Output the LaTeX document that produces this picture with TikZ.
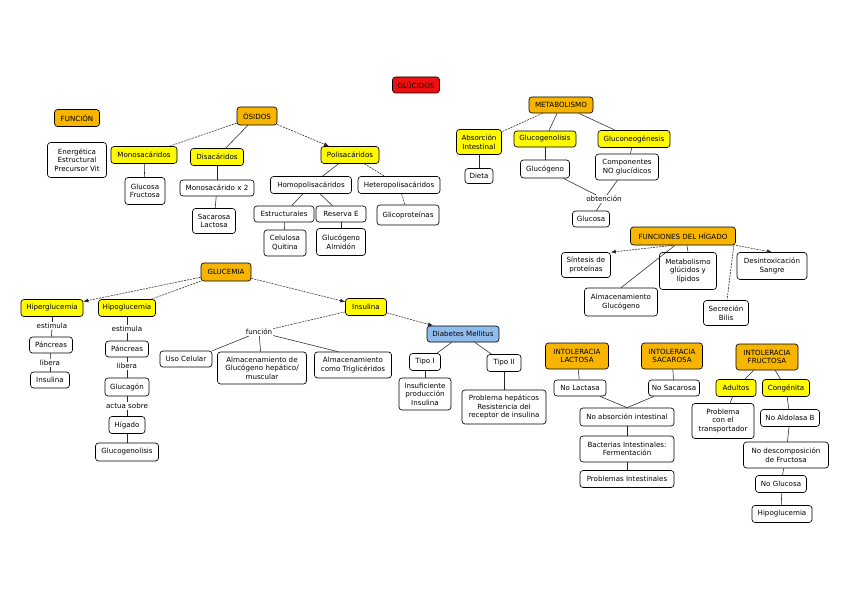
\documentclass[tikz,border=0pt]{standalone}
\usepackage{fontspec}
\newfontfamily\djfont{DejaVu Sans}
\usetikzlibrary{arrows.meta}
\definecolor{cOrange}{HTML}{F7B500}
\definecolor{cYellow}{HTML}{FFFA00}
\definecolor{cRed}{HTML}{EE1010}
\definecolor{cBlue}{HTML}{90BCEC}
\tikzset{
  basebox/.style={draw=black, line width=0.65pt, rounded corners=3pt, align=center,
    inner sep=1.5pt, font=\djfont\fontsize{7.1}{8.5}\selectfont},
  wbox/.style={basebox, fill=white},
  ybox/.style={basebox, fill=cYellow},
  obox/.style={basebox, fill=cOrange},
  rbox/.style={basebox, fill=cRed},
  bbox/.style={basebox, fill=cBlue},
  lbl/.style={inner sep=1pt, font=\djfont\fontsize{7.1}{8.5}\selectfont},
  conn/.style={draw=black!85, line width=0.55pt},
  dconn/.style={conn, dash pattern=on 2pt off 1pt},
  arr/.style={-{Latex[length=5pt,width=4pt]}},
  sz/.style 2 args={minimum width=#1pt, minimum height=#2pt}
}
\begin{document}
\begin{tikzpicture}[x=1pt,y=-1pt]
\fill[white] (0,0) rectangle (848,599);
\useasboundingbox (0,0) rectangle (848,599);

% ---- top ----
\node[rbox, sz={47}{16}] (glucidos) at (416,85) {GLÚCIDOS};
\node[obox, sz={45}{17}] (funcion) at (77,118) {FUNCIÓN};
\node[wbox, sz={59}{35}] (energ) at (77,160) {Energética\\Estructural\\Precursor Vit};
\node[obox, sz={40}{18}] (osidos) at (257,116) {ÓSIDOS};
\node[ybox, sz={66}{17}] (mono) at (144,155) {Monosacáridos};
\node[ybox, sz={53}{17}] (disac) at (217,157) {Disacáridos};
\node[ybox, sz={58}{17}] (poli) at (350,155) {Polisacáridos};
\node[wbox, sz={40}{27}] (glufru) at (145,191) {Glucosa\\Fructosa};
\node[wbox, sz={74}{16}] (monox) at (217,188) {Monosacárido x 2};
\node[wbox, sz={43}{25}] (sacalac) at (214,221) {Sacarosa\\Lactosa};
\node[wbox, sz={81}{17}] (homo) at (311,185) {Homopolisacáridos};
\node[wbox, sz={82}{17}] (hetero) at (399,185) {Heteropolisacáridos};
\node[wbox, sz={60}{16}] (estruc) at (284,214) {Estructurales};
\node[wbox, sz={50}{16}] (reserva) at (341,214) {Reserva E};
\node[wbox, sz={62}{20}] (glico) at (408,215) {Glicoproteínas};
\node[wbox, sz={42}{26}] (celu) at (285,243) {Celulosa\\Quitina};
\node[wbox, sz={49}{27}] (glucalm) at (341,242) {Glucógeno\\Almidón};

\draw[dconn] (osidos) -- (mono);
\draw[conn] (osidos) -- (disac);
\draw[dconn, arr] (osidos) -- (poli);
\draw[conn] (mono) -- (glufru);
\draw[conn] (disac) -- (monox);
\draw[conn] (monox) -- (sacalac);
\draw[conn] (poli) -- (homo);
\draw[dconn] (poli) -- (hetero);
\draw[conn] (homo) -- (estruc);
\draw[conn] (homo) -- (reserva);
\draw[dconn] (hetero) -- (glico);
\draw[conn] (estruc) -- (celu);
\draw[conn] (reserva) -- (glucalm);

% ---- metabolismo ----
\node[obox, sz={64}{16}] (metab) at (561,105) {METABOLISMO};
\node[ybox, sz={45}{25}] (absor) at (479,142) {Absorción\\Intestinal};
\node[ybox, sz={62}{16}] (glucogenol) at (545,139) {Glucogenolisis};
\node[ybox, sz={72}{17}] (gluconeo) at (634,139) {Gluconeogénesis};
\node[wbox, sz={28}{15}] (dieta) at (479,176) {Dieta};
\node[wbox, sz={49}{18}] (glucogeno) at (545,169) {Glucógeno};
\node[wbox, sz={63}{26}] (compon) at (627,167) {Componentes\\NO glucídicos};
\node[lbl] (obten) at (604,199) {obtención};
\node[wbox, sz={37}{16}] (glucosa) at (591,219) {Glucosa};

\draw[dconn] (metab) -- (absor);
\draw[conn] (metab) -- (glucogenol);
\draw[conn] (metab) -- (gluconeo);
\draw[conn] (absor) -- (dieta);
\draw[conn] (glucogenol) -- (glucogeno);
\draw[conn] (gluconeo) -- (compon);
\draw[conn] (glucogeno) -- (obten);
\draw[conn] (compon) -- (obten);
\draw[conn] (obten) -- (glucosa);

% ---- higado ----
\node[obox, sz={105}{18}] (funhig) at (683,236) {FUNCIONES DEL HÍGADO};
\node[wbox, sz={49}{25}] (sintesis) at (586,265) {Síntesis de\\proteínas};
\node[wbox, sz={57}{37}] (metglu) at (688,271) {Metabolismo\\glúcidos y\\lípidos};
\node[wbox, sz={70}{27}] (desint) at (772,266) {Desintoxicación\\Sangre};
\node[wbox, sz={73}{28}] (almglu) at (621,302) {Almacenamiento\\Glucógeno};
\node[wbox, sz={45}{25}] (secre) at (726,313) {Secreción\\Bilis};

\draw[dconn, arr] ([xshift=-10pt]funhig.south) -- (sintesis.north east);
\draw[conn] ([xshift=-8pt]funhig.south) -- (almglu.north);
\draw[conn] ([xshift=4pt]funhig.south) -- (metglu.north);
\draw[dconn] ([xshift=-2pt]funhig.south east) -- ([xshift=1pt]secre.north);
\draw[dconn, arr] (funhig.south east) -- (desint.north);

% ---- glucemia ----
\node[obox, sz={50}{18}] (glucemia) at (226,272) {GLUCEMIA};
\node[ybox, sz={62}{17}] (hiper) at (52,308) {Hiperglucemia};
\node[ybox, sz={57}{17}] (hipo) at (127,308) {Hipoglucemia};
\node[ybox, sz={41}{17}] (insulina) at (366,307) {Insulina};
\node[lbl] (est1) at (52,326) {estimula};
\node[wbox, sz={43}{16}] (pan1) at (51,345) {Páncreas};
\node[lbl] (lib1) at (50,363) {libera};
\node[wbox, sz={39}{16}] (ins1) at (50,380) {Insulina};
\node[lbl] (est2) at (127,329) {estimula};
\node[wbox, sz={43}{16}] (pan2) at (127,349) {Páncreas};
\node[lbl] (lib2) at (127,366) {libera};
\node[wbox, sz={44}{18}] (glucagon) at (127,387) {Glucagón};
\node[lbl] (actua) at (127,406) {actua sobre};
\node[wbox, sz={36}{17}] (higado) at (127,425) {Hígado};
\node[wbox, sz={63}{18}] (glucogenol2) at (127,452) {Glucogenolisis};

\draw[dconn, arr] (glucemia) -- (hiper);
\draw[dconn] (glucemia) -- (hipo);
\draw[dconn, arr] (glucemia) -- (insulina);
\draw[conn] (hiper) -- (est1);
\draw[conn] (est1) -- (pan1);
\draw[conn] (pan1) -- (lib1);
\draw[conn] (lib1) -- (ins1);
\draw[conn] (hipo) -- (est2);
\draw[conn] (est2) -- (pan2);
\draw[conn] (pan2) -- (lib2);
\draw[conn] (lib2) -- (glucagon);
\draw[conn] (glucagon) -- (actua);
\draw[conn] (actua) -- (higado);
\draw[conn] (higado) -- (glucogenol2);

\node[lbl] (funclbl) at (259,332) {función};
\node[wbox, sz={52}{16}] (uso) at (186,359) {Uso Celular};
\node[wbox, sz={89}{32}] (almhep) at (262,368) {Almacenamiento de\\Glucógeno hepático/\\muscular};
\node[wbox, sz={77}{26}] (almtri) at (353,365) {Almacenamiento\\como Triglicéridos};

\draw[dconn] (insulina) -- (funclbl);
\draw[conn] (funclbl) -- (uso.north east);
\draw[conn] (funclbl) -- (almhep);
\draw[conn] (funclbl) -- ([xshift=-15pt]almtri.north);

% ---- diabetes ----
\node[bbox, sz={72}{16}] (dm) at (463,334) {Diabetes Mellitus};
\node[wbox, sz={31}{17}] (tipo1) at (425,362) {Tipo I};
\node[wbox, sz={34}{17}] (tipo2) at (504,363) {Tipo II};
\node[wbox, sz={52}{32}] (insuf) at (425,394) {Insuficiente\\producción\\Insulina};
\node[wbox, sz={84}{34}] (probhep) at (504,407) {Problema hepáticos\\Resistencia del\\receptor de insulina};

\draw[dconn, arr] (insulina) -- (dm);
\draw[conn] (dm) -- (tipo1);
\draw[conn] (dm) -- (tipo2);
\draw[conn] (tipo1) -- (insuf);
\draw[conn] (tipo2) -- (probhep);

% ---- intolerancias ----
\node[obox, sz={63}{26}] (intlac) at (577,356) {INTOLERACIA\\LACTOSA};
\node[obox, sz={61}{26}] (intsac) at (672,356) {INTOLERACIA\\SACAROSA};
\node[obox, sz={62}{26}] (intfru) at (767,357) {INTOLERACIA\\FRUCTOSA};
\node[wbox, sz={52}{16}] (nolac) at (580,388) {No Lactasa};
\node[wbox, sz={51}{16}] (nosac) at (674,388) {No Sacarosa};
\node[wbox, sz={94}{18}] (noabs) at (627,417) {No absorción intestinal};
\node[wbox, sz={94}{26}] (bact) at (627,449) {Bacterias Intestinales:\\Fermentación};
\node[wbox, sz={94}{17}] (probint) at (627,479) {Problemas Intestinales};
\node[ybox, sz={40}{17}] (adultos) at (736,388) {Adultos};
\node[ybox, sz={47}{17}] (congen) at (786,388) {Congénita};
\node[wbox, sz={62}{35}] (probtrans) at (723,421) {Problema\\con el\\transportador};
\node[wbox, sz={59}{17}] (noald) at (790,418) {No Aldolasa B};
\node[wbox, sz={85}{26}] (nodesc) at (786,455) {No descomposición\\de Fructosa};
\node[wbox, sz={51}{17}] (noglu) at (781,484) {No Glucosa};
\node[wbox, sz={60}{17}] (hipo2) at (782,514) {Hipoglucemia};

\draw[conn] (intlac) -- (nolac);
\draw[conn] (intsac) -- (nosac);
\draw[conn] ([xshift=20pt]nolac.south) -- (noabs.north);
\draw[conn] ([xshift=-20pt]nosac.south) -- (noabs.north);
\draw[conn] (noabs) -- (bact);
\draw[conn] (bact) -- (probint);
\draw[conn] (intfru) -- (adultos);
\draw[conn] (intfru) -- (congen);
\draw[conn] (adultos) -- (probtrans);
\draw[conn] (congen) -- (noald);
\draw[conn] (noald) -- (nodesc);
\draw[conn] (nodesc) -- (noglu);
\draw[conn] (noglu) -- (hipo2);
\end{tikzpicture}
\end{document}
